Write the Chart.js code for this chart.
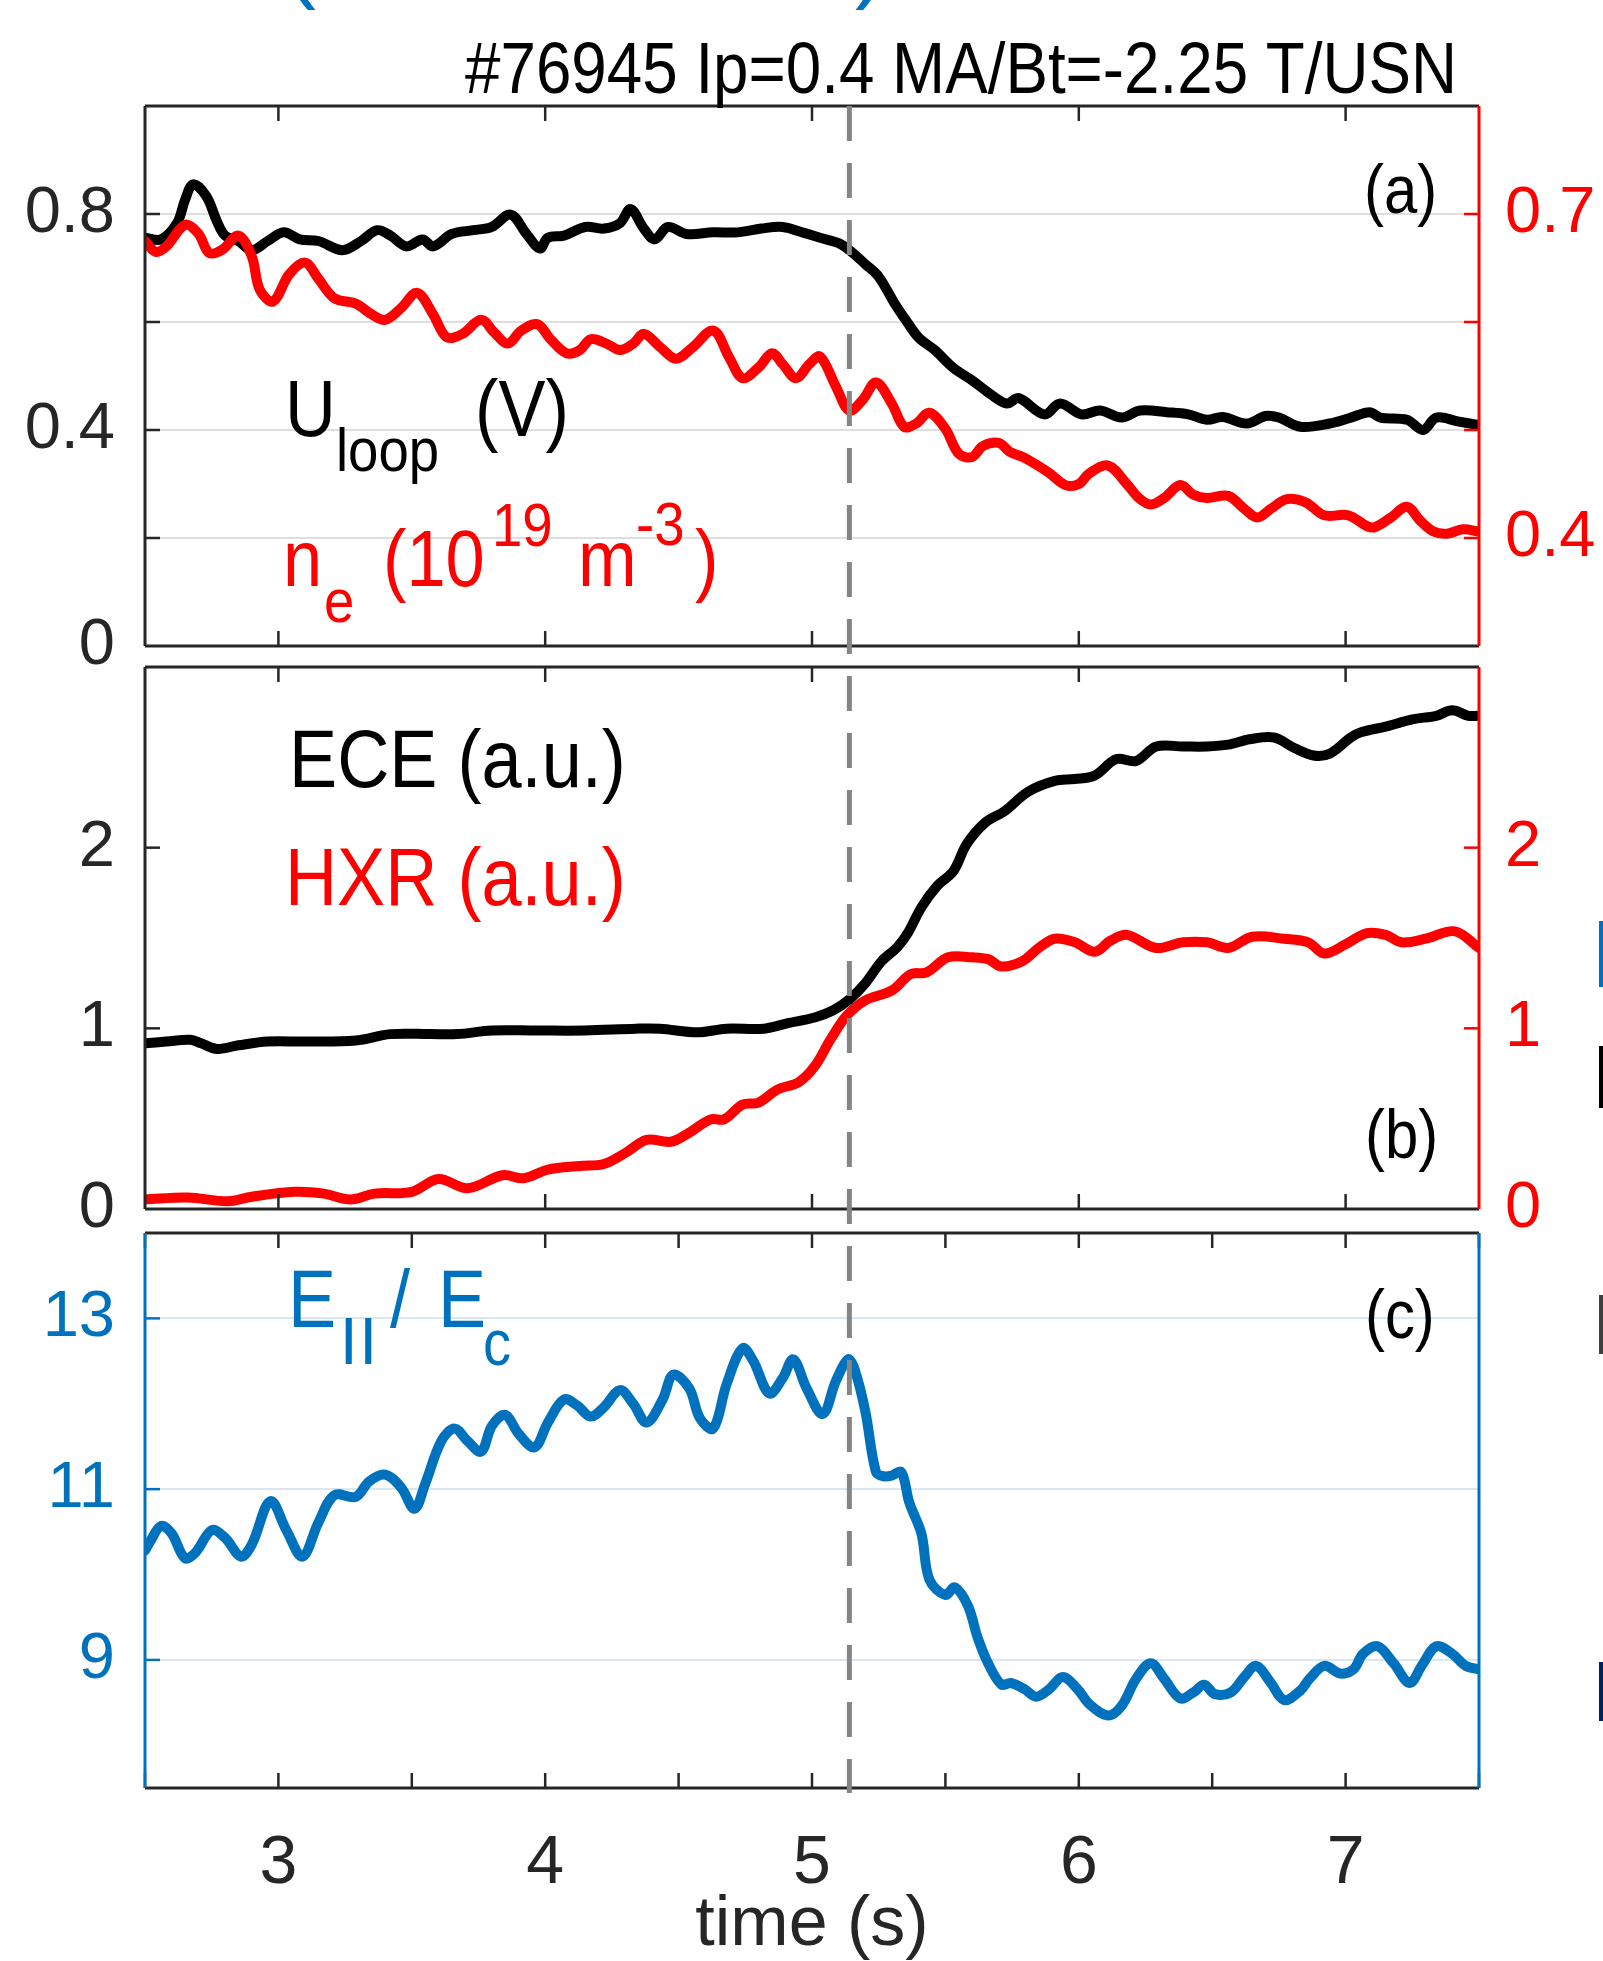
<!DOCTYPE html>
<html>
<head>
<meta charset="utf-8">
<script src="https://cdn.jsdelivr.net/npm/chart.js@4.4.1/dist/chart.umd.min.js"></script>
<style>
  html, body { margin: 0; padding: 0; background: #fff; }
  #wrap { position: relative; width: 1603px; height: 1961px; overflow: hidden; background: #fff; }
  #wrap canvas { position: absolute; left: 0; }
  .edge { position: absolute; left: 1599px; width: 4px; }
</style>
</head>
<body>
<div id="wrap">
  <canvas id="panelA" width="1603" height="740" style="top:0px"></canvas>
  <canvas id="panelB" width="1603" height="730" style="top:570px"></canvas>
  <canvas id="panelC" width="1603" height="831" style="top:1130px"></canvas>
  <div class="edge" style="top:921px;height:66px;background:#0070c0"></div>
  <div class="edge" style="top:1046px;height:62px;background:#000"></div>
  <div class="edge" style="top:1295px;height:59px;background:#404040"></div>
  <div class="edge" style="top:1662px;height:59px;background:#002060"></div>
</div>
<script>
// --- loop voltage (V) ---
const tLoop = [2.50, 2.56, 2.62, 2.65, 2.68, 2.73, 2.77, 2.80, 2.85, 2.90, 2.96, 3.02, 3.08, 3.15, 3.24, 3.31,
  3.37, 3.42, 3.48, 3.54, 3.58, 3.65, 3.73, 3.80, 3.87, 3.93, 3.98, 4.01, 4.07, 4.15, 4.22, 4.28, 4.32, 4.37,
  4.41, 4.46, 4.53, 4.63, 4.72, 4.81, 4.89, 4.97, 5.03, 5.10, 5.14, 5.20, 5.25, 5.31, 5.355, 5.40, 5.46, 5.53,
  5.60, 5.67, 5.73, 5.775, 5.87, 5.93, 6.01, 6.08, 6.16, 6.23, 6.33, 6.41, 6.48, 6.54, 6.63, 6.70, 6.75, 6.83,
  6.94, 7.02, 7.09, 7.13, 7.23, 7.29, 7.34, 7.42, 7.50];
const uLoop = [0.756, 0.753, 0.783, 0.826, 0.855, 0.833, 0.786, 0.760, 0.750, 0.733, 0.750, 0.766, 0.753, 0.750,
  0.733, 0.750, 0.770, 0.760, 0.740, 0.753, 0.740, 0.763, 0.770, 0.776, 0.799, 0.763, 0.736, 0.756, 0.760, 0.776,
  0.773, 0.783, 0.809, 0.773, 0.753, 0.776, 0.763, 0.766, 0.766, 0.773, 0.776, 0.765, 0.756, 0.746, 0.733, 0.707,
  0.684, 0.634, 0.601, 0.571, 0.548, 0.515, 0.492, 0.466, 0.449, 0.459, 0.429, 0.449, 0.429, 0.436, 0.423, 0.436,
  0.433, 0.429, 0.419, 0.424, 0.412, 0.426, 0.423, 0.406, 0.412, 0.423, 0.433, 0.423, 0.419, 0.400, 0.423, 0.416,
  0.409];

// --- line averaged density (1e19 m^-3) ---
const tDens = [2.50, 2.54, 2.58, 2.65, 2.70, 2.74, 2.79, 2.85, 2.90, 2.93, 2.98, 3.04, 3.10, 3.15, 3.21, 3.29,
  3.35, 3.40, 3.46, 3.52, 3.58, 3.63, 3.69, 3.76, 3.81, 3.86, 3.91, 3.97, 4.02, 4.08, 4.13, 4.17, 4.23, 4.28,
  4.33, 4.37, 4.43, 4.49, 4.55, 4.63, 4.69, 4.74, 4.80, 4.85, 4.89, 4.94, 4.99, 5.03, 5.09, 5.14, 5.19, 5.24,
  5.30, 5.345, 5.39, 5.44, 5.50, 5.55, 5.60, 5.64, 5.70, 5.74, 5.79, 5.84, 5.89, 5.95, 6.00, 6.04, 6.11, 6.18,
  6.225, 6.27, 6.32, 6.38, 6.43, 6.48, 6.56, 6.62, 6.67, 6.72, 6.78, 6.85, 6.92, 7.01, 7.08, 7.11, 7.17, 7.23,
  7.28, 7.33, 7.38, 7.44, 7.50];
const nDens = [0.675, 0.665, 0.670, 0.690, 0.682, 0.664, 0.667, 0.680, 0.661, 0.630, 0.619, 0.644, 0.655, 0.640,
  0.622, 0.617, 0.607, 0.602, 0.613, 0.627, 0.607, 0.586, 0.589, 0.602, 0.590, 0.580, 0.592, 0.598, 0.584, 0.571,
  0.574, 0.584, 0.580, 0.574, 0.580, 0.589, 0.577, 0.566, 0.576, 0.592, 0.567, 0.548, 0.558, 0.571, 0.561, 0.548,
  0.561, 0.568, 0.540, 0.518, 0.528, 0.544, 0.524, 0.503, 0.506, 0.516, 0.501, 0.478, 0.475, 0.485, 0.488, 0.480,
  0.475, 0.468, 0.460, 0.449, 0.450, 0.460, 0.467, 0.450, 0.437, 0.431, 0.437, 0.449, 0.440, 0.437, 0.439, 0.427,
  0.419, 0.427, 0.436, 0.433, 0.421, 0.421, 0.411, 0.410, 0.419, 0.429, 0.416, 0.406, 0.404, 0.408, 0.406];

// --- ECE and HXR signals (a.u.) ---
const tEce = [2.50, 2.58, 2.67, 2.71, 2.77, 2.85, 2.96, 3.10, 3.29, 3.42, 3.57, 3.67, 3.80, 3.96, 4.15, 4.34,
  4.43, 4.57, 4.68, 4.82, 4.91, 5.01, 5.08, 5.14, 5.20, 5.26, 5.32, 5.36, 5.41, 5.47, 5.53, 5.58, 5.65, 5.72,
  5.81, 5.91, 5.985, 6.06, 6.14, 6.215, 6.29, 6.39, 6.48, 6.56, 6.64, 6.73, 6.81, 6.88, 6.94, 7.02, 7.06, 7.15,
  7.25, 7.34, 7.40, 7.46, 7.50];
const ece = [0.917, 0.927, 0.937, 0.917, 0.886, 0.906, 0.927, 0.927, 0.933, 0.968, 0.968, 0.968, 0.988, 0.988,
  0.988, 0.998, 0.998, 0.978, 0.998, 0.998, 1.029, 1.06, 1.10, 1.16, 1.25, 1.37, 1.45, 1.53, 1.67, 1.79, 1.87,
  2.02, 2.14, 2.20, 2.31, 2.37, 2.38, 2.40, 2.49, 2.48, 2.56, 2.56, 2.56, 2.57, 2.60, 2.61, 2.55, 2.51, 2.52,
  2.61, 2.64, 2.67, 2.71, 2.73, 2.76, 2.73, 2.73];

const tHxr = [2.50, 2.66, 2.81, 2.90, 3.06, 3.17, 3.27, 3.36, 3.50, 3.60, 3.71, 3.84, 3.92, 4.01, 4.13, 4.22,
  4.30, 4.38, 4.47, 4.53, 4.62, 4.67, 4.74, 4.80, 4.87, 4.95, 5.01, 5.07, 5.13, 5.20, 5.30, 5.37, 5.43, 5.51,
  5.60, 5.66, 5.71, 5.79, 5.85, 5.91, 5.985, 6.06, 6.12, 6.18, 6.29, 6.39, 6.48, 6.56, 6.65, 6.77, 6.86, 6.92,
  7.00, 7.08, 7.15, 7.21, 7.30, 7.41, 7.50];
const hxr = [0.053, 0.064, 0.043, 0.068, 0.095, 0.085, 0.053, 0.085, 0.095, 0.166, 0.115, 0.187, 0.170, 0.218,
  0.238, 0.249, 0.310, 0.383, 0.372, 0.413, 0.496, 0.496, 0.578, 0.589, 0.661, 0.702, 0.790, 0.940, 1.07, 1.155,
  1.21, 1.30, 1.31, 1.393, 1.393, 1.383, 1.342, 1.373, 1.445, 1.496, 1.476, 1.424, 1.486, 1.517, 1.445, 1.476,
  1.476, 1.445, 1.507, 1.496, 1.476, 1.414, 1.465, 1.527, 1.517, 1.476, 1.496, 1.537, 1.445];

// --- E_par / E_c ---
const tField = [2.50, 2.52, 2.56, 2.60, 2.65, 2.69, 2.75, 2.80, 2.86, 2.90, 2.97, 3.03, 3.09, 3.15, 3.21, 3.29,
  3.34, 3.40, 3.46, 3.51, 3.55, 3.61, 3.66, 3.71, 3.76, 3.80, 3.85, 3.90, 3.96, 4.01, 4.07, 4.12, 4.17, 4.22,
  4.28, 4.33, 4.38, 4.44, 4.48, 4.54, 4.58, 4.63, 4.68, 4.74, 4.78, 4.84, 4.89, 4.93, 4.98, 5.04, 5.09, 5.135,
  5.16, 5.20, 5.24, 5.27, 5.30, 5.335, 5.365, 5.41, 5.44, 5.50, 5.535, 5.585, 5.62, 5.66, 5.71, 5.745, 5.795,
  5.84, 5.89, 5.94, 5.995, 6.04, 6.11, 6.16, 6.215, 6.27, 6.32, 6.38, 6.43, 6.47, 6.51, 6.57, 6.62, 6.665, 6.72,
  6.77, 6.83, 6.865, 6.92, 6.98, 7.03, 7.065, 7.12, 7.18, 7.24, 7.285, 7.34, 7.40, 7.45, 7.50];
const eRatio = [10.28, 10.39, 10.57, 10.48, 10.19, 10.26, 10.52, 10.43, 10.21, 10.35, 10.86, 10.52, 10.21, 10.61,
  10.93, 10.91, 11.09, 11.17, 11.02, 10.77, 11.06, 11.56, 11.71, 11.56, 11.44, 11.74, 11.87, 11.65, 11.49, 11.78,
  12.05, 11.98, 11.85, 11.96, 12.16, 12.00, 11.78, 12.05, 12.34, 12.18, 11.83, 11.71, 12.23, 12.65, 12.50, 12.12,
  12.30, 12.52, 12.18, 11.88, 12.27, 12.52, 12.40, 11.91, 11.20, 11.15, 11.16, 11.20, 10.84, 10.48, 9.94, 9.76,
  9.85, 9.63, 9.27, 8.96, 8.71, 8.73, 8.66, 8.57, 8.66, 8.80, 8.66, 8.48, 8.35, 8.46, 8.78, 8.96, 8.78, 8.55,
  8.62, 8.71, 8.60, 8.62, 8.80, 8.93, 8.73, 8.53, 8.64, 8.78, 8.93, 8.84, 8.89, 9.07, 9.16, 8.96, 8.73, 8.93,
  9.16, 9.07, 8.93, 8.89];

// axis labels
const loopLabels = [0, 0.4, 0.8];
const densLabels = [0.4, 0.7];
const eceLabels = [0, 1, 2];
const hxrLabels = [0, 1, 2];
const fieldTicks = [9, 11, 13];

const xMin = 2.5, xMax = 7.5;
const eventTime = 5.14;

const FONT = "'Liberation Sans', Arial, Helvetica, sans-serif";
const INK = '#262626';
const RED = '#ff0000';
const BLUE = '#0072bd';
const TICK = 15;
const DASH_START = 106;

function pts(ts, vs) {
  return ts.map((t, i) => ({ x: t, y: vs[i] }));
}

function lineSet(ts, vs, color, axis) {
  return {
    data: pts(ts, vs),
    borderColor: color,
    borderWidth: 10,
    pointRadius: 0,
    tension: 0.35,
    borderJoinStyle: 'round',
    borderCapStyle: 'round',
    fill: false,
    yAxisID: axis
  };
}

function labelOnly(list) {
  return v => list.some(l => Math.abs(l - v) < 1e-6) ? String(v) : '';
}

function yAxis(o) {
  return {
    type: 'linear',
    position: o.position,
    min: o.min,
    max: o.max,
    afterFit: s => { s.width = o.width; },
    afterBuildTicks: o.fixed ? s => { s.ticks = o.fixed.map(v => ({ value: v })); } : undefined,
    border: { display: false },
    grid: o.grid ? { color: o.grid, lineWidth: 2, drawTicks: false } : { display: false, drawTicks: false },
    ticks: {
      stepSize: o.step,
      autoSkip: false,
      padding: o.padding,
      color: o.color,
      font: { family: FONT, size: 65 },
      callback: labelOnly(o.labels)
    }
  };
}

function hiddenX() {
  return { type: 'linear', min: xMin, max: xMax, display: false };
}

function seg(ctx, x1, y1, x2, y2) {
  ctx.beginPath();
  ctx.moveTo(x1, y1);
  ctx.lineTo(x2, y2);
  ctx.stroke();
}

// frame, inward ticks, the event marker and the text labels of one panel
function panelDecor(p) {
  return {
    id: 'panelDecor',
    afterDatasetsDraw(chart) {
      const { ctx, chartArea: a, scales } = chart;
      const xs = scales.x;
      ctx.save();

      ctx.lineWidth = 2.5;
      ctx.strokeStyle = INK;
      for (let t = Math.ceil(xMin / p.xStep) * p.xStep; t <= xMax + 1e-9; t += p.xStep) {
        const px = xs.getPixelForValue(t);
        seg(ctx, px, a.top, px, a.top + TICK);
        seg(ctx, px, a.bottom, px, a.bottom - TICK);
      }
      ctx.strokeStyle = p.leftColor;
      scales.y.ticks.forEach(tk => {
        const py = scales.y.getPixelForValue(tk.value);
        if (py > a.top + 2 && py < a.bottom - 2) seg(ctx, a.left, py, a.left + TICK, py);
      });
      if (scales.y2) {
        ctx.strokeStyle = p.rightColor;
        scales.y2.ticks.forEach(tk => {
          const py = scales.y2.getPixelForValue(tk.value);
          if (py > a.top + 2 && py < a.bottom - 2) seg(ctx, a.right, py, a.right - TICK, py);
        });
      }

      ctx.lineWidth = 3;
      ctx.strokeStyle = INK;
      seg(ctx, a.left, a.top, a.right, a.top);
      seg(ctx, a.left, a.bottom, a.right, a.bottom);
      ctx.strokeStyle = p.leftColor;
      seg(ctx, a.left, a.top, a.left, a.bottom);
      ctx.strokeStyle = p.rightColor;
      seg(ctx, a.right, a.top, a.right, a.bottom);

      // dashed marker at the transition time
      const ex = xs.getPixelForValue(eventTime);
      ctx.strokeStyle = '#858585';
      ctx.lineWidth = 5;
      ctx.setLineDash([35, 22]);
      ctx.lineDashOffset = p.dashFrom - DASH_START;
      seg(ctx, ex, p.dashFrom - p.top, ex, p.dashTo - p.top);
      ctx.setLineDash([]);

      ctx.textBaseline = 'alphabetic';
      ctx.textAlign = 'left';
      p.texts.forEach(r => {
        ctx.font = r.size + 'px ' + FONT;
        ctx.fillStyle = r.color;
        const sx = r.w ? r.w / ctx.measureText(r.s).width : (r.sx || 0.88);
        ctx.save();
        ctx.translate(r.x, r.y - p.top);
        ctx.scale(sx, 1);
        ctx.fillText(r.s, 0, 0);
        ctx.restore();
      });
      ctx.restore();
    }
  };
}

function baseOptions(padding, scales) {
  return {
    responsive: false,
    devicePixelRatio: 1,
    animation: false,
    events: [],
    layout: { padding },
    plugins: { legend: { display: false }, tooltip: { enabled: false } },
    scales
  };
}

// (a) loop voltage and density
new Chart(document.getElementById('panelA'), {
  type: 'line',
  data: {
    datasets: [
      lineSet(tDens, nDens, RED, 'y2'),
      lineSet(tLoop, uLoop, '#000000', 'y')
    ]
  },
  options: baseOptions({ top: 106, bottom: 94, left: 0, right: 0 }, {
    x: hiddenX(),
    y: yAxis({ position: 'left', min: 0, max: 1, step: 0.2, labels: loopLabels, color: INK, width: 145, padding: 30, grid: '#dedede' }),
    y2: yAxis({ position: 'right', min: 0.3, max: 0.8, step: 0.1, labels: densLabels, color: RED, width: 124, padding: 26 })
  }),
  plugins: [panelDecor({
    top: 0, xStep: 1, leftColor: INK, rightColor: RED, dashFrom: 106, dashTo: 655,
    texts: [
      { s: '#76945 Ip=0.4 MA/Bt=-2.25 T/USN', x: 465, y: 93, size: 72, color: '#000', w: 992 },
      { s: '(', x: 286, y: -9, size: 90, color: '#0070c0', sx: 1 },
      { s: ')', x: 855, y: -9, size: 90, color: '#0070c0', sx: 1 },
      { s: 'U', x: 285, y: 436, size: 80, color: '#000' },
      { s: 'loop', x: 336, y: 471, size: 62, color: '#000' },
      { s: '(V)', x: 475, y: 436, size: 80, color: '#000' },
      { s: 'n', x: 283, y: 586, size: 80, color: RED },
      { s: 'e', x: 324, y: 622, size: 62, color: RED },
      { s: '(10', x: 383, y: 586, size: 80, color: RED },
      { s: '19', x: 492, y: 546, size: 62, color: RED },
      { s: 'm', x: 578, y: 586, size: 80, color: RED },
      { s: '-3', x: 636, y: 545, size: 62, color: RED },
      { s: ')', x: 695, y: 586, size: 80, color: RED },
      { s: '(a)', x: 1364, y: 213, size: 68, color: '#000' }
    ]
  })]
});

// (b) ECE and HXR
new Chart(document.getElementById('panelB'), {
  type: 'line',
  data: {
    datasets: [
      lineSet(tEce, ece, '#000000', 'y'),
      lineSet(tHxr, hxr, RED, 'y2')
    ]
  },
  options: baseOptions({ top: 97, bottom: 91, left: 0, right: 0 }, {
    x: hiddenX(),
    y: yAxis({ position: 'left', min: 0, max: 3, step: 1, labels: eceLabels, color: INK, width: 145, padding: 30 }),
    y2: yAxis({ position: 'right', min: 0, max: 3, step: 1, labels: hxrLabels, color: RED, width: 124, padding: 26 })
  }),
  plugins: [panelDecor({
    top: 570, xStep: 1, leftColor: INK, rightColor: RED, dashFrom: 655, dashTo: 1220,
    texts: [
      { s: 'ECE (a.u.)', x: 289, y: 787, size: 82, color: '#000' },
      { s: 'HXR (a.u.)', x: 285, y: 905, size: 82, color: RED },
      { s: '(b)', x: 1365, y: 1158, size: 68, color: '#000' }
    ]
  })]
});

// (c) E_par / E_c
new Chart(document.getElementById('panelC'), {
  type: 'line',
  data: {
    datasets: [lineSet(tField, eRatio, BLUE, 'y')]
  },
  options: baseOptions({ top: 103, bottom: 0, left: 0, right: 124 }, {
    x: {
      type: 'linear',
      position: 'bottom',
      min: xMin,
      max: xMax,
      afterFit: s => { s.height = 173; },
      border: { display: false },
      grid: { display: false, drawTicks: false },
      ticks: {
        stepSize: 0.5,
        autoSkip: false,
        maxRotation: 0,
        padding: 35,
        color: INK,
        font: { family: FONT, size: 68 },
        callback: v => Number.isInteger(v) ? String(v) : ''
      },
      title: {
        display: true,
        text: 'time (s)',
        color: INK,
        font: { family: FONT, size: 70, lineHeight: 1 },
        padding: { top: 0, bottom: 0 }
      }
    },
    y: yAxis({ position: 'left', min: 7.5, max: 14, step: 1, fixed: fieldTicks, labels: fieldTicks, color: BLUE, width: 145, padding: 30, grid: '#d8e7f4' })
  }),
  plugins: [panelDecor({
    top: 1130, xStep: 0.5, leftColor: BLUE, rightColor: BLUE, dashFrom: 1220, dashTo: 1793,
    texts: [
      { s: 'E', x: 288, y: 1327, size: 82, color: BLUE },
      { s: '||', x: 339, y: 1354, size: 50, color: BLUE, sx: 1.5 },
      { s: '/', x: 390, y: 1327, size: 82, color: BLUE },
      { s: 'E', x: 438, y: 1327, size: 82, color: BLUE },
      { s: 'c', x: 483, y: 1365, size: 64, color: BLUE },
      { s: '(c)', x: 1365, y: 1338, size: 68, color: '#000' }
    ]
  })]
});
</script>
</body>
</html>
